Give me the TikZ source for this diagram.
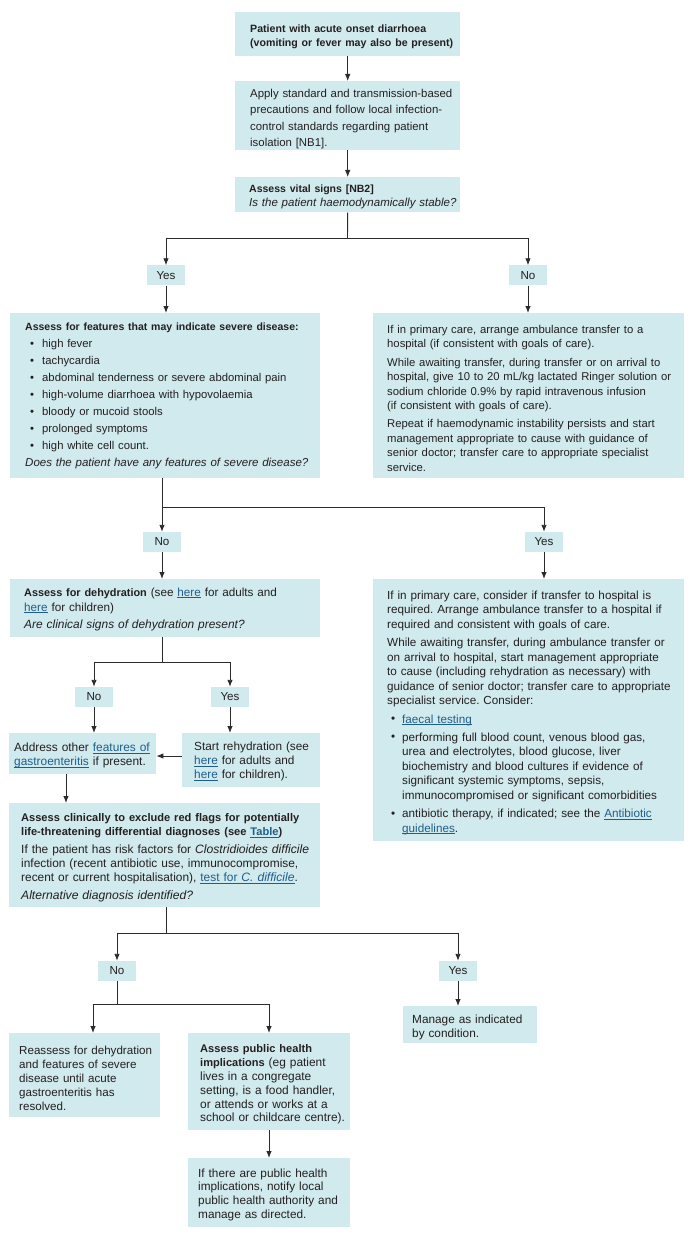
\documentclass[tikz,border=0pt]{standalone}
\usepackage{fontspec}
\usepackage{graphicx}
\setmainfont{Liberation Sans}
\newfontfamily\bfam{Liberation Sans}[Scale=0.93]
\newfontfamily\ifam{Liberation Sans}[Scale=1.02]
\usetikzlibrary{arrows.meta,calc}
\definecolor{boxc}{HTML}{D1EAEE}
\definecolor{linkc}{HTML}{1F5E8A}
\definecolor{txtc}{HTML}{231F20}
\definecolor{linec}{HTML}{2B2B2B}
\frenchspacing
\newcommand\bt[1]{{\bfam\bfseries #1}}
\newcommand\itx[1]{{\ifam\itshape #1}}
\newcommand\lnk[1]{\textcolor{linkc}{\setbox0\hbox{#1}\rlap{\rule[-2pt]{\wd0}{0.8pt}}\box0}}
\newcommand\lpad[1]{\leftskip=#1pt\relax}
\newcommand\dn[1]{\par\vspace{-#1pt}}
\newcommand\bul[2]{\makebox[#1pt][l]{\hspace{#2pt}\raisebox{0.2pt}{\textbullet}}}
\newcommand\ind[1]{\hspace*{#1pt}}
\begin{document}
\begin{tikzpicture}[x=1pt,y=-1pt,
  line/.style={draw=linec, line width=0.9pt},
  conn/.style={line, -{Latex[length=7pt,width=5.5pt]}},
  box/.style={fill=boxc, inner xsep=2pt, inner ysep=0pt, anchor=north west, align=left, text=txtc},
  fs/.style 2 args={font=\fontsize{#1}{#2}\selectfont},
  lbl/.style={fill=boxc, minimum width=38pt, minimum height=20pt, inner sep=0pt, text=txtc, font=\fontsize{11.6}{13}\selectfont}]
\fill[white] (0,0) rectangle (693,1246);
\useasboundingbox (0,0) rectangle (693,1246);

\node[box, fs={11.4}{14}, minimum width=225pt, minimum height=44pt, text width=221pt] (b1) at (235,12)
 {\lpad{13}\bt{Patient with acute onset diarrhoea}\\\bt{(vomiting or fever may also be present)}\dn{6}};

\node[box, fs={11.4}{16.3}, minimum width=225pt, minimum height=69pt, text width=221pt] (b2) at (235,81)
 {\lpad{13}Apply standard and transmission-based\\
  precautions and follow local infection-\\
  control standards regarding patient\\
  isolation [NB1].\dn{7}};

\node[box, fs={11.3}{14}, minimum width=225pt, minimum height=35pt, text width=221pt] (b3) at (235,177)
 {\lpad{12}\bt{Assess vital signs [NB2]}\\
  \itx{Is the patient haemodynamically stable?}\dn{4}};

\node[lbl] (yes1) at (166,275.5) {Yes};
\node[lbl] (no1) at (528,275.5) {No};

\node[box, fs={11.3}{14.3}, minimum width=310pt, minimum height=165pt, text width=306pt] (b4) at (10,313)
 {\lpad{13}\bt{Assess for features that may indicate severe disease:}\\[2.7pt]
  \bul{17}{5}high fever\\[2.7pt]
  \bul{17}{5}tachycardia\\[2.7pt]
  \bul{17}{5}abdominal tenderness or severe abdominal pain\\[2.7pt]
  \bul{17}{5}high-volume diarrhoea with hypovolaemia\\[2.7pt]
  \bul{17}{5}bloody or mucoid stools\\[2.7pt]
  \bul{17}{5}prolonged symptoms\\[2.7pt]
  \bul{17}{5}high white cell count.\\[2.7pt]
  \itx{Does the patient have any features of severe disease?}\dn{1}};

\node[box, fs={11.3}{14.4}, minimum width=311pt, minimum height=165pt, text width=307pt] (b5) at (373,313)
 {\lpad{12}If in primary care, arrange ambulance transfer to a\\
  hospital (if consistent with goals of care).\\[4pt]
  While awaiting transfer, during transfer or on arrival to\\
  hospital, give 10 to 20 mL/kg lactated Ringer solution or\\
  sodium chloride 0.9\% by rapid intravenous infusion\\
  (if consistent with goals of care).\\[4pt]
  Repeat if haemodynamic instability persists and start\\
  management appropriate to cause with guidance of\\
  senior doctor; transfer care to appropriate specialist\\
  service.\dn{5}};

\node[lbl] (no2) at (162,542) {No};
\node[lbl] (yes2) at (544,542) {Yes};

\node[box, fs={11.7}{15}, minimum width=310pt, minimum height=58pt, text width=306pt] (b6) at (10,579)
 {\lpad{12}\bt{Assess for dehydration} (see \lnk{here} for adults and\\
  \lnk{here} for children)\\[2pt]
  \itx{Are clinical signs of dehydration present?}\dn{2}};

\node[box, fs={11.7}{14.6}, minimum width=311pt, minimum height=262pt, text width=307pt] (b7) at (373,579)
 {\lpad{12}If in primary care, consider if transfer to hospital is\\
  required. Arrange ambulance transfer to a hospital if\\
  required and consistent with goals of care.\\[3.5pt]
  While awaiting transfer, during ambulance transfer or\\
  on arrival to hospital, start management appropriate\\
  to cause (including rehydration as necessary) with\\
  guidance of senior doctor; transfer care to appropriate\\
  specialist service. Consider:\\[3.5pt]
  \bul{15}{4}\lnk{faecal testing}\\[3.5pt]
  \bul{15}{4}performing full blood count, venous blood gas,\\
  \ind{15}urea and electrolytes, blood glucose, liver\\
  \ind{15}biochemistry and blood cultures if evidence of\\
  \ind{15}significant systemic symptoms, sepsis,\\
  \ind{15}immunocompromised or significant comorbidities\\[3.5pt]
  \bul{15}{4}antibiotic therapy, if indicated; see the \lnk{Antibiotic}\\
  \ind{15}\lnk{guidelines}.\dn{5}};

\node[lbl] (no3) at (94,697) {No};
\node[lbl] (yes3) at (230,697) {Yes};

\node[box, fs={11.9}{14}, minimum width=147pt, minimum height=41pt, text width=143pt] (b8) at (9,733)
 {\lpad{3}Address other \lnk{features of}\\
  \lnk{gastroenteritis} if present.\dn{4}};

\node[box, fs={11.8}{14}, minimum width=138pt, minimum height=54pt, text width=134pt] (b9) at (182,733)
 {\lpad{10}Start rehydration (see\\
  \lnk{here} for adults and\\
  \lnk{here} for children).\dn{3}};

\node[box, fs={11.9}{14}, minimum width=311pt, minimum height=104pt, text width=307pt] (b10) at (9,803)
 {\lpad{10}\bt{Assess clinically to exclude red flags for potentially}\\
  \bt{life-threatening differential diagnoses (see \lnk{Table})}\\[4pt]
  If the patient has risk factors for \itx{Clostridioides difficile}\\
  infection (recent antibiotic use, immunocompromise,\\
  recent or current hospitalisation), \lnk{test for \itx{C. difficile}}.\\[4pt]
  \itx{Alternative diagnosis identified?}\dn{5}};

\node[lbl] (no4) at (117,971) {No};
\node[lbl] (yes4) at (458,971) {Yes};

\node[box, fs={11.8}{14}, minimum width=134pt, minimum height=37pt, text width=130pt] (b11) at (403,1006)
 {\lpad{7}Manage as indicated\\
  by condition.\dn{6}};

\node[box, fs={11.6}{13.9}, minimum width=151pt, minimum height=84pt, text width=147pt] (b12) at (9,1033)
 {\lpad{8}Reassess for dehydration\\
  and features of severe\\
  disease until acute\\
  gastroenteritis has\\
  resolved.\dn{6}};

\node[box, fs={11.9}{13.8}, minimum width=162pt, minimum height=97pt, text width=158pt] (b13) at (188,1033)
 {\lpad{10}\bt{Assess public health}\\
  \bt{implications} (eg patient\\
  lives in a congregate\\
  setting, is a food handler,\\
  or attends or works at a\\
  school or childcare centre).\dn{6}};

\node[box, fs={11.8}{13.8}, minimum width=162pt, minimum height=69pt, text width=158pt] (b14) at (188,1158)
 {\lpad{8}If there are public health\\
  implications, notify local\\
  public health authority and\\
  manage as directed.\dn{4}};

% connectors
\draw[conn] (b1) -- (b2);
\draw[conn] (b2) -- (b3);
\coordinate (j1) at (347.5,238);
\draw[line] (b3.south) -- (j1);
\draw[conn] (j1) -| (yes1);
\draw[conn] (j1) -| (no1);
\draw[conn] (yes1) -- (yes1 |- b4.north);
\draw[conn] (no1) -- (no1 |- b5.north);

\coordinate (j2) at (162,507);
\draw[line] (j2 |- b4.south) -- (j2);
\draw[conn] (j2) -- (no2);
\draw[conn] (j2) -| (yes2);
\draw[conn] (no2) -- (no2 |- b6.north);
\draw[conn] (yes2) -- (yes2 |- b7.north);

\coordinate (j3) at (162,662);
\draw[line] (j3 |- b6.south) -- (j3);
\draw[conn] (j3) -| (no3);
\draw[conn] (j3) -| (yes3);
\draw[conn] (no3) -- (no3 |- b8.north);
\draw[conn] (yes3) -- (yes3 |- b9.north);

\coordinate (a1) at (0,756);
\draw[conn] (a1 -| b9.west) -- (a1 -| b8.east);
\coordinate (k1) at (66,0);
\draw[conn] (k1 |- b8.south) -- (k1 |- b10.north);

\coordinate (j4) at (166,933);
\draw[line] (j4 |- b10.south) -- (j4);
\draw[conn] (j4) -| (no4);
\draw[conn] (j4) -| (yes4);

\coordinate (j5) at (117,1004);
\coordinate (j6) at (93,1004);
\coordinate (j7) at (269,1004);
\draw[line] (no4) -- (j5);
\draw[line] (j6) -- (j7);
\draw[conn] (j6) -- (j6 |- b12.north);
\draw[conn] (j7) -- (j7 |- b13.north);
\draw[conn] (yes4) -- (yes4 |- b11.north);
\draw[conn] (j7 |- b13.south) -- (j7 |- b14.north);
\end{tikzpicture}
\end{document}
